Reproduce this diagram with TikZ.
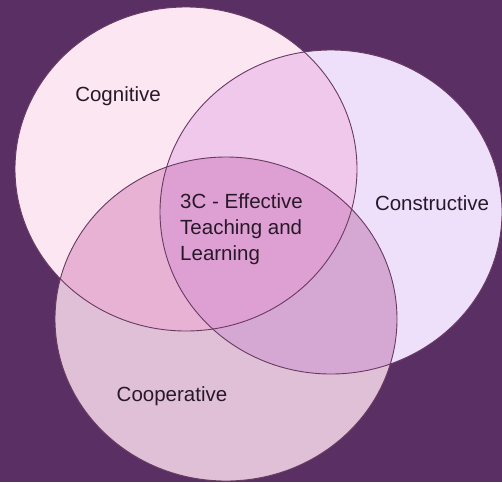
\documentclass[tikz,border=0pt]{standalone}
\usepackage{fontspec}
\setmainfont{Liberation Sans}
\definecolor{bg}{RGB}{90,48,100}
\definecolor{cogonly}{RGB}{252,230,242}
\definecolor{cononly}{RGB}{238,224,250}
\definecolor{cooponly}{RGB}{224,192,214}
\definecolor{cogcon}{RGB}{240,200,236}
\definecolor{cogcoop}{RGB}{232,178,212}
\definecolor{concoop}{RGB}{212,168,210}
\definecolor{allthree}{RGB}{222,160,210}
\definecolor{edge}{RGB}{105,58,98}
\definecolor{txt}{RGB}{40,24,42}
\begin{document}
\begin{tikzpicture}[x=1pt,y=-1pt,
  lbl/.style={text=txt,font=\fontsize{20.5}{26}\selectfont,inner sep=0pt},
  rim/.style={draw=edge,line width=0.9pt}]
\def\rx{171}\def\ry{162}
\def\cogE{(186,169) ellipse [x radius=\rx, y radius=\ry]}
\def\conE{(331,212) ellipse [x radius=\rx, y radius=\ry]}
\def\coopE{(226,319) ellipse [x radius=\rx, y radius=\ry]}
\fill[bg] (0,0) rectangle (502,482);
\useasboundingbox (0,0) rectangle (502,482);
\fill[cogonly] \cogE;
\fill[cononly] \conE;
\fill[cooponly] \coopE;
\begin{scope}\clip \cogE; \fill[cogcon] \conE; \end{scope}
\begin{scope}\clip \cogE; \fill[cogcoop] \coopE; \end{scope}
\begin{scope}\clip \conE; \fill[concoop] \coopE; \end{scope}
\begin{scope}\clip \cogE; \clip \conE; \fill[allthree] \coopE; \end{scope}
\draw[rim] \cogE;
\draw[rim] \conE;
\draw[rim] \coopE;
\node[lbl] (cog) at (118,96) {Cognitive};
\node[lbl] (con) at (432,203) {Constructive};
\node[lbl] (coop) at (172,396) {Cooperative};
\node[lbl,anchor=north west,align=left] (center) at (180,193) {3C - Effective\\Teaching and\\Learning};
\end{tikzpicture}
\end{document}
